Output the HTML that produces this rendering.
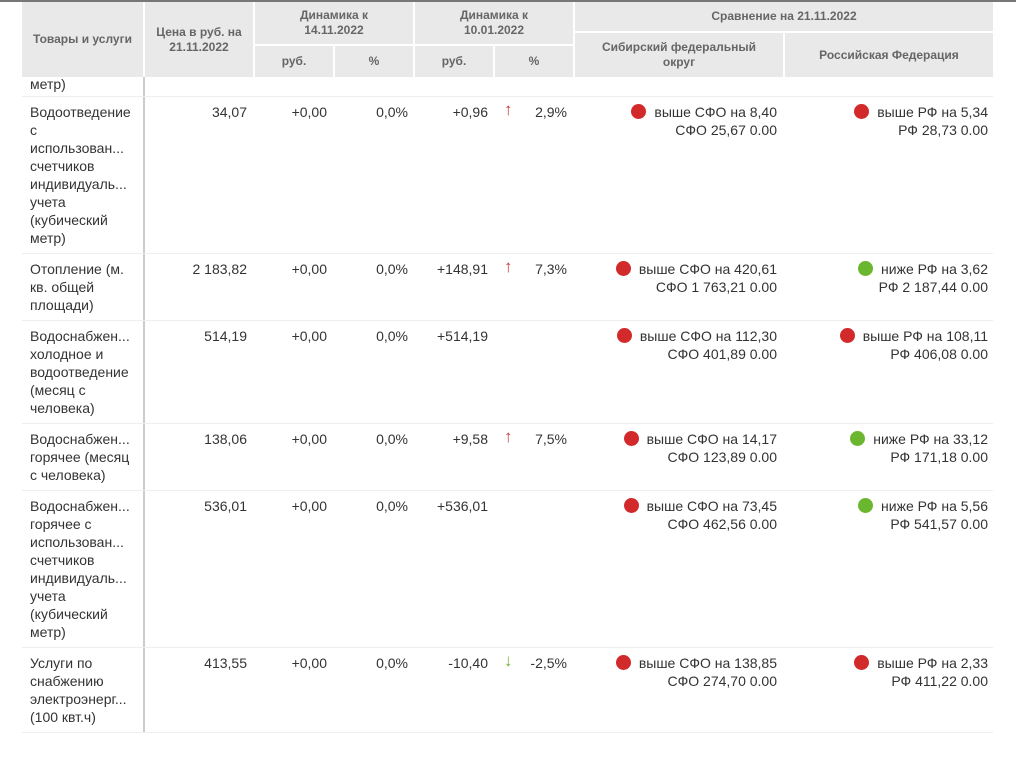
<!DOCTYPE html>
<html><head><meta charset="utf-8"><style>
body{margin:0;width:1016px;height:763px;background:#fff;overflow:hidden;position:relative;font-family:"Liberation Sans","DejaVu Sans",sans-serif;color:#333;}
.a{position:absolute}
.h{position:absolute;background:#e9e9e9;color:#666;font-weight:bold;font-size:12px;display:flex;align-items:center;justify-content:center;text-align:center;line-height:15px}
.t{position:absolute;font-size:14px;line-height:18px;white-space:nowrap}
.r{text-align:right}
.dot{display:inline-block;width:15px;height:15px;border-radius:50%;vertical-align:-2px;margin-right:8px}
.red{background:#d22a2a}.grn{background:#6ab72f}
.hr{position:absolute;left:22px;width:971px;height:1px;background:#eee}
.up{color:#c8393a;font-size:17px}.dn{color:#6ab72f;font-size:17px}
</style></head><body>
<div class="a" style="left:0;top:0;width:1016px;height:2px;background:#777"></div>
<div class="h" style="left:22px;top:2px;width:121px;height:75px">Товары и услуги</div>
<div class="h" style="left:145px;top:2px;width:108px;height:75px">Цена в руб. на 21.11.2022</div>
<div class="h" style="left:255px;top:2px;width:158px;height:42px">Динамика к<br>14.11.2022</div>
<div class="h" style="left:415px;top:2px;width:158px;height:42px">Динамика к<br>10.01.2022</div>
<div class="h" style="left:255px;top:46px;width:78px;height:31px">руб.</div>
<div class="h" style="left:335px;top:46px;width:78px;height:31px">%</div>
<div class="h" style="left:415px;top:46px;width:78px;height:31px">руб.</div>
<div class="h" style="left:495px;top:46px;width:78px;height:31px">%</div>
<div class="h" style="left:575px;top:2px;width:418px;height:29px">Сравнение на 21.11.2022</div>
<div class="h" style="left:575px;top:33px;width:208px;height:44px">Сибирский федеральный<br>округ</div>
<div class="h" style="left:785px;top:33px;width:208px;height:44px">Российская Федерация</div>
<div class="a" style="left:143px;top:77px;width:2px;height:656px;background:#ccc"></div>

<div class="t" style="left:30px;top:75px">метр)</div>
<div class="hr" style="top:96px"></div>
<div class="hr" style="top:253px"></div>
<div class="hr" style="top:320px"></div>
<div class="hr" style="top:423px"></div>
<div class="hr" style="top:490px"></div>
<div class="hr" style="top:647px"></div>
<div class="hr" style="top:732px"></div>

<!-- rows -->
<div>
<div class="t" style="left:30px;top:103px">Водоотведение<br>с<br>использован...<br>счетчиков<br>индивидуаль...<br>учета<br>(кубический<br>метр)</div>
<div class="t r" style="right:769px;top:103px">34,07</div>
<div class="t r" style="right:689px;top:103px">+0,00</div>
<div class="t r" style="right:608px;top:103px">0,0%</div>
<div class="t r" style="right:528px;top:103px">+0,96</div>
<div class="t up" style="left:504px;top:101px">↑</div>
<div class="t r" style="right:449px;top:103px">2,9%</div>
<div class="t r" style="right:239px;top:103px"><span class="dot red"></span>выше СФО на 8,40<br>СФО 25,67 0.00</div>
<div class="t r" style="right:28px;top:103px"><span class="dot red"></span>выше РФ на 5,34<br>РФ 28,73 0.00</div>
</div>

<div>
<div class="t" style="left:30px;top:260px">Отопление (м.<br>кв. общей<br>площади)</div>
<div class="t r" style="right:769px;top:260px">2 183,82</div>
<div class="t r" style="right:689px;top:260px">+0,00</div>
<div class="t r" style="right:608px;top:260px">0,0%</div>
<div class="t r" style="right:528px;top:260px">+148,91</div>
<div class="t up" style="left:504px;top:258px">↑</div>
<div class="t r" style="right:449px;top:260px">7,3%</div>
<div class="t r" style="right:239px;top:260px"><span class="dot red"></span>выше СФО на 420,61<br>СФО 1 763,21 0.00</div>
<div class="t r" style="right:28px;top:260px"><span class="dot grn"></span>ниже РФ на 3,62<br>РФ 2 187,44 0.00</div>
</div>

<div>
<div class="t" style="left:30px;top:327px">Водоснабжен...<br>холодное и<br>водоотведение<br>(месяц с<br>человека)</div>
<div class="t r" style="right:769px;top:327px">514,19</div>
<div class="t r" style="right:689px;top:327px">+0,00</div>
<div class="t r" style="right:608px;top:327px">0,0%</div>
<div class="t r" style="right:528px;top:327px">+514,19</div>
<div class="t r" style="right:239px;top:327px"><span class="dot red"></span>выше СФО на 112,30<br>СФО 401,89 0.00</div>
<div class="t r" style="right:28px;top:327px"><span class="dot red"></span>выше РФ на 108,11<br>РФ 406,08 0.00</div>
</div>

<div>
<div class="t" style="left:30px;top:430px">Водоснабжен...<br>горячее (месяц<br>с человека)</div>
<div class="t r" style="right:769px;top:430px">138,06</div>
<div class="t r" style="right:689px;top:430px">+0,00</div>
<div class="t r" style="right:608px;top:430px">0,0%</div>
<div class="t r" style="right:528px;top:430px">+9,58</div>
<div class="t up" style="left:504px;top:428px">↑</div>
<div class="t r" style="right:449px;top:430px">7,5%</div>
<div class="t r" style="right:239px;top:430px"><span class="dot red"></span>выше СФО на 14,17<br>СФО 123,89 0.00</div>
<div class="t r" style="right:28px;top:430px"><span class="dot grn"></span>ниже РФ на 33,12<br>РФ 171,18 0.00</div>
</div>

<div>
<div class="t" style="left:30px;top:497px">Водоснабжен...<br>горячее с<br>использован...<br>счетчиков<br>индивидуаль...<br>учета<br>(кубический<br>метр)</div>
<div class="t r" style="right:769px;top:497px">536,01</div>
<div class="t r" style="right:689px;top:497px">+0,00</div>
<div class="t r" style="right:608px;top:497px">0,0%</div>
<div class="t r" style="right:528px;top:497px">+536,01</div>
<div class="t r" style="right:239px;top:497px"><span class="dot red"></span>выше СФО на 73,45<br>СФО 462,56 0.00</div>
<div class="t r" style="right:28px;top:497px"><span class="dot grn"></span>ниже РФ на 5,56<br>РФ 541,57 0.00</div>
</div>

<div>
<div class="t" style="left:30px;top:654px">Услуги по<br>снабжению<br>электроэнерг...<br>(100 квт.ч)</div>
<div class="t r" style="right:769px;top:654px">413,55</div>
<div class="t r" style="right:689px;top:654px">+0,00</div>
<div class="t r" style="right:608px;top:654px">0,0%</div>
<div class="t r" style="right:528px;top:654px">-10,40</div>
<div class="t dn" style="left:504px;top:652px">↓</div>
<div class="t r" style="right:449px;top:654px">-2,5%</div>
<div class="t r" style="right:239px;top:654px"><span class="dot red"></span>выше СФО на 138,85<br>СФО 274,70 0.00</div>
<div class="t r" style="right:28px;top:654px"><span class="dot red"></span>выше РФ на 2,33<br>РФ 411,22 0.00</div>
</div>
</body></html>
